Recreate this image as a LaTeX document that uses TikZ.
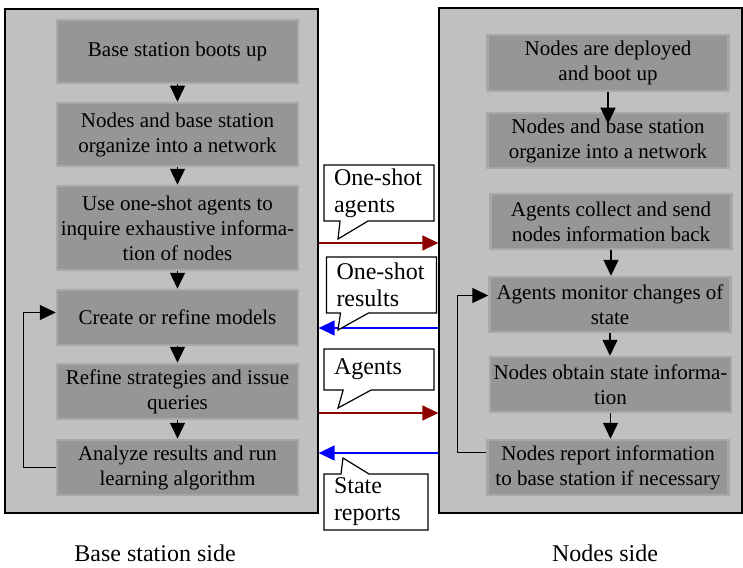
\documentclass[tikz,border=0pt]{standalone}
\usepackage{fontspec}
\setmainfont{Liberation Serif}
\usetikzlibrary{arrows.meta,shapes.callouts}
\definecolor{panelgray}{RGB}{192,192,192}
\definecolor{boxgray}{RGB}{150,150,150}
\definecolor{boxrim}{RGB}{168,168,168}
\definecolor{reqred}{RGB}{140,0,0}
\definecolor{ansblue}{RGB}{0,0,255}
\begin{document}
\begin{tikzpicture}[x=1pt,y=-1pt,
  panel/.style={draw=black,line width=1.3pt,fill=panelgray,inner sep=0pt},
  stepbox/.style={fill=boxgray,draw=boxrim,line width=2.5pt,
    minimum width=241pt,align=center,inner sep=0pt,
    font=\fontsize{21}{25}\selectfont},
  bubble/.style={rectangle callout,draw=black,line width=1.2pt,fill=white,
    text width=90pt,align=left,inner xsep=10pt,inner ysep=2pt,
    callout pointer width=28pt,font=\fontsize{24}{27}\selectfont},
  flow/.style={-{Triangle[width=15pt,length=16pt]},line width=1.4pt},
  req/.style={flow,draw=reqred},
  ans/.style={flow,draw=ansblue},
  side/.style={font=\fontsize{24}{27}\selectfont,anchor=base}]
\useasboundingbox (0,0) rectangle (743,567);

% the two sides
\node[panel,minimum width=313pt,minimum height=504pt] (bsside) at (161.5,261) {};
\node[panel,minimum width=303pt,minimum height=505pt] (nside) at (590.5,260.5) {};

% base station steps
\node[stepbox,minimum height=63pt] (b1) at (177.5,51.5) {Base station boots up};
\node[stepbox,minimum height=63pt] (b2) at (177.5,134.5) {Nodes and base station\\organize into a network};
\node[stepbox,minimum height=84pt] (b3) at (177.5,228) {Use one-shot agents to\\inquire exhaustive informa-\\tion of nodes};
\node[stepbox,minimum height=55pt] (b4) at (177.5,317.5) {Create or refine models};
\node[stepbox,minimum height=55pt] (b5) at (177.5,391.5) {Refine strategies and issue\\queries};
\node[stepbox,minimum height=55pt] (b6) at (177.5,467.5) {Analyze results and run\\learning algorithm};

% node steps
\node[stepbox,minimum height=56pt] (n1) at (608,63) {Nodes are deployed\\and boot up};
\node[stepbox,minimum height=55pt] (n2) at (608,140.5) {Nodes and base station\\organize into a network};
\node[stepbox,minimum height=55pt] (n3) at (611,221.5) {Agents collect and send\\nodes information back};
\node[stepbox,minimum height=55pt] (n4) at (610,304.5) {Agents monitor changes of\\state};
\node[stepbox,minimum height=55pt] (n5) at (610.5,384.5) {Nodes obtain state informa-\\tion};
\node[stepbox,minimum height=55pt] (n6) at (608,467.5) {Nodes report information\\to base station if necessary};

\foreach \a/\b in {b1/b2,b2/b3,b3/b4,b4/b5,b5/b6,n3/n4,n4/n5,n5/n6}
  \draw[flow] (\a.south) -- (\a.south |- \b.north);
\draw[flow] (n1.south) -- ([yshift=-12pt]n2.north);

% feedback loops
\draw[flow] (b6.west) -- ++(-32,0) |- ([yshift=5pt]b4.west);
\draw[flow] ([yshift=15pt]n6.west) -- ++(-29,0) |- ([yshift=9pt]n4.west);

% messages between the sides
\draw[req] (bsside.east |- 0,243) -- (nside.west |- 0,243);
\draw[ans] (nside.west |- 0,328) -- (bsside.east |- 0,328);
\draw[req] (bsside.east |- 0,413) -- (nside.west |- 0,413);
\draw[ans] (nside.west |- 0,453) -- (bsside.east |- 0,453);

\node[bubble,minimum height=56pt,callout absolute pointer={(338,239)}] (c1) at (379,193) {One-shot\\agents};
\node[bubble,minimum height=56pt,callout absolute pointer={(338,330)}] (c2) at (381.5,285) {One-shot\\results};
\node[bubble,minimum height=41pt,callout absolute pointer={(338,408)}] (c3) at (379,369.5) {Agents};
\node[bubble,minimum height=56pt,text width=84pt,callout absolute pointer={(343,458)}] (c4) at (376,502) {State\\reports};

\node[side] (bslabel) at (155,561) {Base station side};
\node[side] (nlabel) at (605,561) {Nodes side};
\end{tikzpicture}
\end{document}
